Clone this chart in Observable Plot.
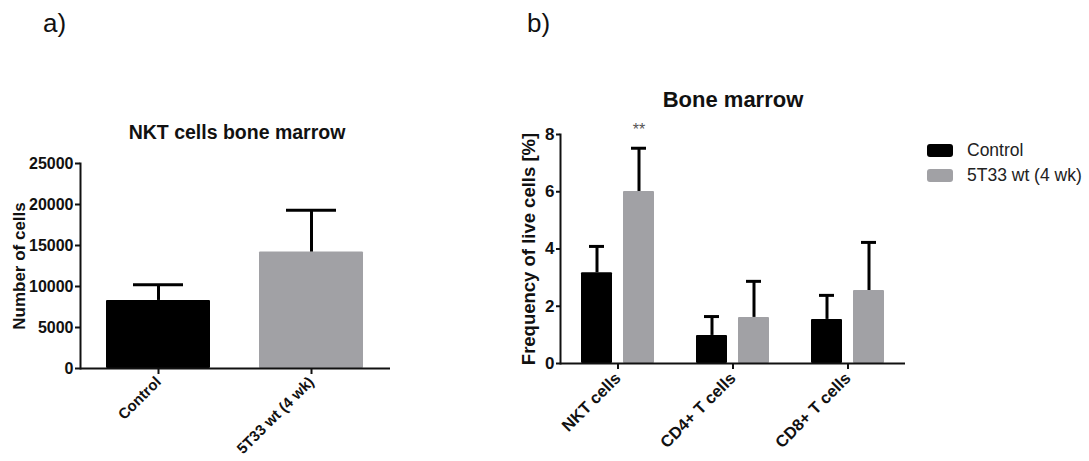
<!DOCTYPE html>
<html>
<head>
<meta charset="utf-8">
<script src="https://cdn.jsdelivr.net/npm/d3@7"></script>
<script src="https://cdn.jsdelivr.net/npm/@observablehq/plot@0.6"></script>
<style>
  body { margin: 0; background: #fff; font-family: "Liberation Sans", Arial, sans-serif; }
  #page { position: relative; width: 1089px; height: 461px; overflow: hidden; background: #fff; }
  .abs { position: absolute; }
  .letter { font-size: 26px; line-height: 1; color: #111; }
  .title { font-weight: bold; color: #111; text-align: center; white-space: nowrap; line-height: 1; }
  .legend-row { display: flex; align-items: center; font-size: 17.5px; color: #222; height: 25px; white-space: nowrap; }
  .swatch { width: 26px; height: 13px; border-radius: 3px; margin-right: 14px; }
</style>
</head>
<body>
<div id="page">
  <div class="abs letter" style="left:43px; top:10px;">a)</div>
  <div class="abs letter" style="left:527px; top:10px;">b)</div>
  <div class="abs title" style="left:87px; top:123px; width:300px; font-size:19.5px;">NKT cells bone marrow</div>
  <div class="abs title" style="left:583px; top:89px; width:300px; font-size:22px;">Bone marrow</div>
  <div id="chartA" class="abs" style="left:0; top:100px;"></div>
  <div id="chartB" class="abs" style="left:480px; top:80px;"></div>
  <div id="legend" class="abs" style="left:927px; top:138px;"></div>
</div>
<script>
// Panel a: absolute NKT cell counts in bone marrow (mean + SD)
const groupsA = ["Control", "5T33 wt (4 wk)"];
const cellsMean = [8300, 14200];
const cellsSD = [1900, 5100];
const cellTicks = [0, 5000, 10000, 15000, 20000, 25000];

// Panel b: frequency of live cells per subset (mean + SD)
const subsets = ["NKT cells", "CD4+ T cells", "CD8+ T cells"];
const groupsB = ["Control", "5T33 wt (4 wk)"];
const freqControl = [3.17, 0.98, 1.54];
const errControl = [0.92, 0.66, 0.84];
const freq5T33 = [6.01, 1.61, 2.55];
const err5T33 = [1.51, 1.26, 1.68];
const freqTicks = [0, 2, 4, 6, 8];
const significance = [{subset: "NKT cells", group: "5T33 wt (4 wk)", label: "**"}];

const groupColors = ["#000000", "#a1a1a5"];
const FONT = '"Liberation Sans", Arial, sans-serif';
const INK = "#111";

// ---- panel a ----
const dataA = groupsA.map((g, i) => ({group: g, mean: cellsMean[i], sd: cellsSD[i]}));

const plotA = Plot.plot({
  width: 400, height: 361,
  marginLeft: 80, marginRight: 10, marginTop: 63, marginBottom: 93,
  style: {fontFamily: FONT, color: INK, background: "transparent", overflow: "visible"},
  x: {domain: groupsA, paddingInner: 0.318, paddingOuter: 0.166},
  y: {domain: [0, 25000]},
  color: {domain: groupsA, range: groupColors},
  marks: [
    Plot.barY(dataA, {x: "group", y: "mean", fill: "group", rx: 1}),
    Plot.ruleX(dataA, {x: "group", y1: "mean", y2: d => d.mean + d.sd, stroke: "#000", strokeWidth: 3}),
    Plot.tickY(dataA, {x: "group", y: d => d.mean + d.sd, stroke: "#000", strokeWidth: 3, insetLeft: 27, insetRight: 27}),
    Plot.ruleY([0], {stroke: INK, strokeWidth: 2}),
    Plot.frame({anchor: "left", stroke: INK, strokeWidth: 2}),
    Plot.axisY({ticks: cellTicks, tickFormat: d => String(d), tickSize: 5, tickPadding: 2,
                fontSize: 16, fontWeight: "bold", strokeWidth: 2, label: null}),
    Plot.axisX({tickRotate: -45, tickSize: 6, tickPadding: 5, fontSize: 15, fontWeight: "bold",
                strokeWidth: 2, label: null}),
    Plot.text(["Number of cells"], {frameAnchor: "left", textAnchor: "middle", rotate: -90, dx: -61,
                fontSize: 17, fontWeight: "bold", fill: INK})
  ]
});
document.getElementById("chartA").append(plotA);

// ---- panel b ----
const dataB = subsets.flatMap((s, i) => [
  {subset: s, group: groupsB[0], mean: freqControl[i], err: errControl[i]},
  {subset: s, group: groupsB[1], mean: freq5T33[i], err: err5T33[i]}
]);

const plotB = Plot.plot({
  width: 440, height: 381,
  marginLeft: 80, marginRight: 15, marginTop: 54, marginBottom: 98,
  style: {fontFamily: FONT, color: INK, background: "transparent", overflow: "visible"},
  fx: {domain: subsets, padding: 0},
  x: {domain: groupsB, paddingInner: 0.27, paddingOuter: 0.488, axis: null},
  y: {domain: [0, 8]},
  color: {domain: groupsB, range: groupColors},
  marks: [
    Plot.barY(dataB, {fx: "subset", x: "group", y: "mean", fill: "group", rx: 1}),
    Plot.ruleX(dataB, {fx: "subset", x: "group", y1: "mean", y2: d => d.mean + d.err, stroke: "#000", strokeWidth: 3}),
    Plot.tickY(dataB, {fx: "subset", x: "group", y: d => d.mean + d.err, stroke: "#000", strokeWidth: 3, insetLeft: 8, insetRight: 8}),
    Plot.ruleY([0], {stroke: INK, strokeWidth: 2}),
    Plot.frame({anchor: "left", facetAnchor: "left", stroke: INK, strokeWidth: 2}),
    Plot.axisY({ticks: freqTicks, tickSize: 4, tickPadding: 2, fontSize: 17, fontWeight: "bold",
                strokeWidth: 2, label: null}),
    Plot.axisFx({anchor: "bottom", tickRotate: -45, tickSize: 6, tickPadding: 6, fontSize: 16.5,
                 fontWeight: "bold", strokeWidth: 2, label: null}),
    Plot.text(significance, {fx: "subset", x: "group", text: "label", frameAnchor: "top", dy: -11,
                fontSize: 16, fill: "#555"}),
    Plot.text(["Frequency of live cells [%]"], {frameAnchor: "left", facetAnchor: "left", textAnchor: "middle",
                rotate: -90, dx: -31.5, fontSize: 18.5, fontWeight: "bold", fill: INK})
  ]
});
document.getElementById("chartB").append(plotB);

// ---- legend ----
const legend = document.getElementById("legend");
groupsB.forEach((g, i) => {
  const row = document.createElement("div");
  row.className = "legend-row";
  const sw = document.createElement("div");
  sw.className = "swatch";
  sw.style.background = groupColors[i];
  const label = document.createElement("span");
  label.textContent = g;
  row.append(sw, label);
  legend.append(row);
});
</script>
</body>
</html>
